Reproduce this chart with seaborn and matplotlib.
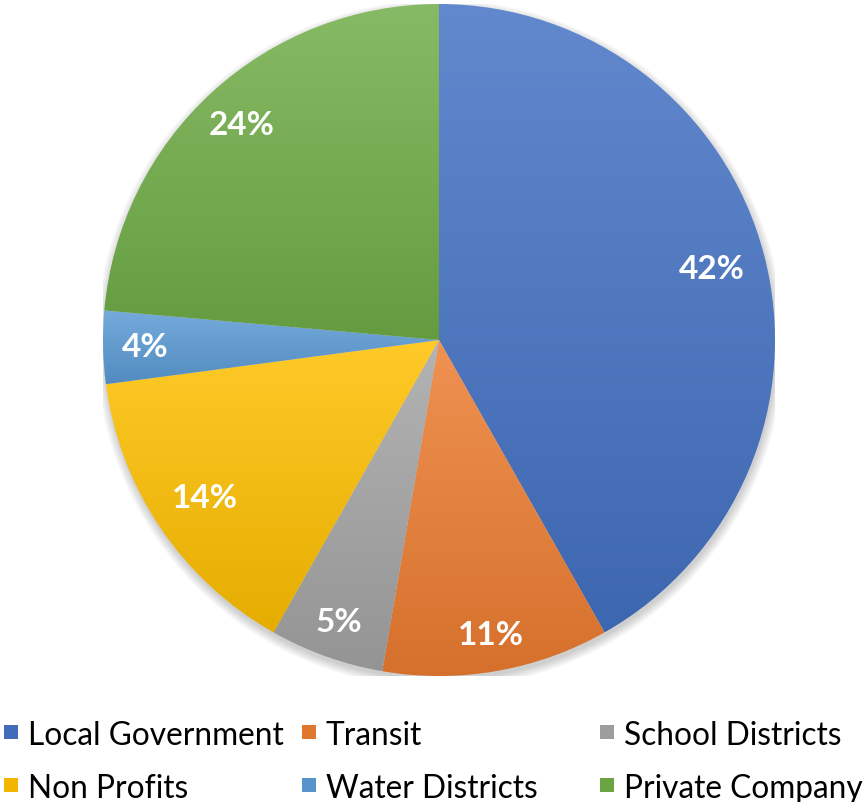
import numpy as np
import matplotlib
matplotlib.use("Agg")
import matplotlib.pyplot as plt
import matplotlib.colors as mcolors
from matplotlib.patches import Rectangle, Circle
import seaborn as sns

categories = ["Local Government", "Transit", "School Districts",
              "Non Profits", "Water Districts", "Private Company"]
values = [41.8, 10.9, 5.5, 14.7, 3.5, 23.6]
pct_labels = ["42%", "11%", "5%", "14%", "4%", "24%"]
colors = ["#4472C4", "#ED7D31", "#A5A5A5", "#FFC000", "#5B9BD5", "#70AD47"]

sns.set_style("white")
plt.rcParams['font.family'] = ['Lato', 'DejaVu Sans']

W, H = 866, 803
fig = plt.figure(figsize=(W / 100, H / 100), dpi=100)
cx, cy, r = 439, 341, 336
ax = fig.add_axes([(cx - r) / W, (H - cy - r) / H, 2 * r / W, 2 * r / H])

# soft shadow under the pie
for k in range(8):
    ax.add_patch(Circle((0.003, -0.012), 1.0 + k * 0.0035, facecolor="black",
                        alpha=0.025, edgecolor="none", zorder=0))

lab_iter = iter(pct_labels)
wedges, texts, autotexts = ax.pie(
    values, colors=colors, startangle=90, counterclock=False,
    autopct=lambda p: next(lab_iter), pctdistance=0.85, radius=1,
    wedgeprops=dict(linewidth=0),
    textprops=dict(color="white", fontsize=24, fontweight="bold"))

for w, c in zip(wedges, colors):
    base = np.array(mcolors.to_rgb(c))
    light = base + (1 - base) * 0.16
    dark = base * 0.9
    verts = w.get_path().vertices
    x0, x1 = verts[:, 0].min(), verts[:, 0].max()
    y0, y1 = verts[:, 1].min(), verts[:, 1].max()
    t = np.linspace(0, 1, 256)[:, None]
    grad = (dark[None, :] * (1 - t) + light[None, :] * t)[:, None, :]
    im = ax.imshow(grad, extent=[x0, x1, y0, y1], origin="lower",
                   aspect="auto", interpolation="bilinear", zorder=1)
    im.set_clip_path(w)
    w.set_facecolor("none")

# label placement (radial distance per slice, as in the reference layout)
label_dist = [0.84, 0.89, 0.89, 0.84, 0.875, 0.87]
for w, t, d in zip(wedges, autotexts, label_dist):
    ang = np.deg2rad((w.theta1 + w.theta2) / 2)
    t.set_position((d * np.cos(ang), d * np.sin(ang)))
    t.set_zorder(5)

ax.set_xlim(-1, 1)
ax.set_ylim(-1, 1)
ax.set_aspect("equal")
ax.axis("off")

# legend, laid out as in the reference
col_x = [4, 302, 600]
row_y = [733, 786]
sq = 14
for i, (lab, c) in enumerate(zip(categories, colors)):
    row, col = divmod(i, 3)
    x, y = col_x[col], row_y[row]
    base = np.array(mcolors.to_rgb(c))
    fig.patches.append(Rectangle(((x) / W, (H - y - sq / 2) / H), sq / W, sq / H,
                                 transform=fig.transFigure, facecolor=base * 0.95,
                                 edgecolor="none"))
    fig.text((x + 24) / W, (H - y) / H, lab, fontsize=22.8, color="#000000",
             ha="left", va="center_baseline")

fig.savefig("out.png", dpi=100)
